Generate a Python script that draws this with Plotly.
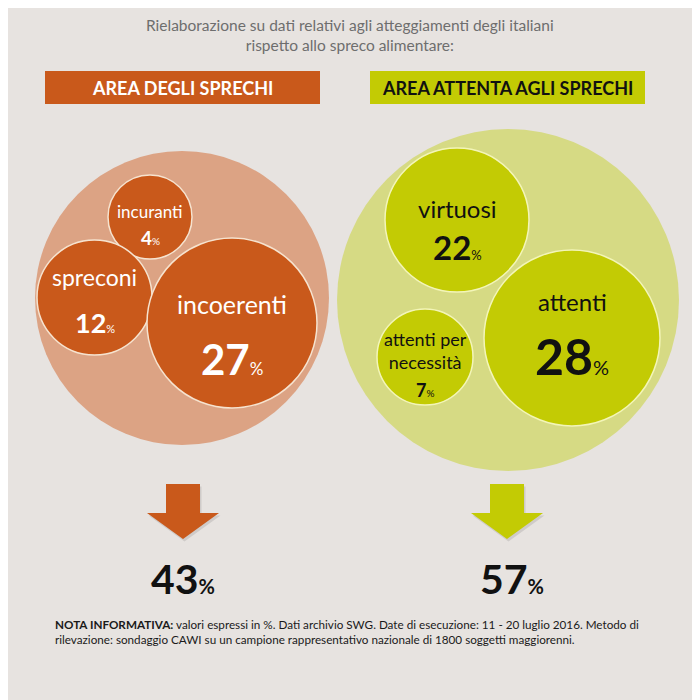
import plotly.graph_objects as go

# ---------------- data ----------------
title_lines = ["Rielaborazione su dati relativi agli atteggiamenti degli italiani",
               "rispetto allo spreco alimentare:"]
group_names = ["AREA DEGLI SPRECHI", "AREA ATTENTA AGLI SPRECHI"]
group_totals = [43, 57]
left_labels = ["incuranti", "spreconi", "incoerenti"]
left_values = [4, 12, 27]
right_labels = ["virtuosi", "attenti per<br>necessità", "attenti"]
right_values = [22, 7, 28]
footer_bold = "NOTA INFORMATIVA:"
footer_rest = (" valori espressi in %. Dati archivio SWG. Date di esecuzione: 11 - 20 luglio 2016. Metodo di"
               "<br>rilevazione: sondaggio CAWI su un campione rappresentativo nazionale di 1800 soggetti maggiorenni.")

# ---------------- layout (pixel positions / sizes / styles) ----------------
BG = "#E7E3E0"
ORANGE = "#C9591B"
ORANGE_LIGHT = "#DCA384"
GREEN = "#C3CB04"
GREEN_LIGHT = "#D6DA84"
FONT = "Lato"
OFF = 8  # page body margin compensation

group_cx = [182, 508]
group_cy = [298, 300]
group_r = [147, 171]

left_cx = [150, 94.5, 232]
left_cy = [217, 297.5, 323]
left_r = [42, 57.5, 85]
left_name_dy = [-6, -21, -19]
left_val_dy = [20, 25, 36]
left_name_size = [17, 23, 25]
left_val_size = [19, 27, 42]

right_cx = [457, 425, 572]
right_cy = [220, 357, 338]
right_r = [72, 48, 88]
right_name_dy = [-12, -7, -37]
right_val_dy = [27, 33, 18]
right_name_size = [24, 18, 24]
right_val_size = [33, 18, 50]

fig = go.Figure()

# big group circles
fig.add_trace(go.Scatter(
    x=group_cx, y=group_cy, mode="markers",
    marker=dict(size=[2 * r for r in group_r], color=[ORANGE_LIGHT, GREEN_LIGHT],
                opacity=1, line=dict(width=0)),
    hoverinfo="skip", showlegend=False))

# inner circles
fig.add_trace(go.Scatter(
    x=left_cx, y=left_cy, mode="markers",
    marker=dict(size=[2 * r for r in left_r], color=ORANGE, opacity=1,
                line=dict(width=1.5, color="#F6E3CF")),
    hoverinfo="skip", showlegend=False))
fig.add_trace(go.Scatter(
    x=right_cx, y=right_cy, mode="markers",
    marker=dict(size=[2 * r for r in right_r], color=GREEN, opacity=1,
                line=dict(width=1.5, color="#F3F5B8")),
    hoverinfo="skip", showlegend=False))

ann = []

def pct(v, size):
    return (f"<b>{v}</b><span style='font-size:{max(10, round(size * 0.4))}px'>%</span>")

for lab, v, cx, cy, ndy, vdy, ns, vs in zip(left_labels, left_values, left_cx, left_cy,
                                            left_name_dy, left_val_dy, left_name_size, left_val_size):
    ann.append(dict(x=cx, y=cy + ndy, text=lab, showarrow=False,
                    font=dict(family=FONT, size=ns, color="white"), yanchor="middle"))
    ann.append(dict(x=cx, y=cy + vdy, text=pct(v, vs), showarrow=False,
                    font=dict(family=FONT, size=vs, color="white"), yanchor="middle"))

for lab, v, cx, cy, ndy, vdy, ns, vs in zip(right_labels, right_values, right_cx, right_cy,
                                            right_name_dy, right_val_dy, right_name_size, right_val_size):
    ann.append(dict(x=cx, y=cy + ndy, text=lab, showarrow=False,
                    font=dict(family=FONT, size=ns, color="#111111"), yanchor="middle"))
    ann.append(dict(x=cx, y=cy + vdy, text=pct(v, vs), showarrow=False,
                    font=dict(family=FONT, size=vs, color="#111111"), yanchor="middle"))

# title
ann.append(dict(x=350, y=35, text="<br>".join(title_lines), showarrow=False,
                font=dict(family=FONT, size=15.5, color="#6E6E6E"), yanchor="middle",
                align="center"))

# header boxes
box_x0 = [45, 370]
box_x1 = [320, 645]
box_colors = [ORANGE, GREEN]
box_text_colors = ["white", "#111111"]
shapes = []
for name, x0, x1, c, tc in zip(group_names, box_x0, box_x1, box_colors, box_text_colors):
    shapes.append(dict(type="rect", xref="x", yref="y", x0=x0, x1=x1, y0=71, y1=104,
                       fillcolor=c, line=dict(width=0), layer="below"))
    ann.append(dict(x=(x0 + x1) / 2, y=88, text=f"<b>{name}</b>", showarrow=False,
                    font=dict(family=FONT, size=18, color=tc), yanchor="middle"))

# arrows
arrow_top, arrow_head, arrow_tip = 484, 513, 539
shaft_hw, head_hw = 17, 36
for cx, c in zip([183, 507], [ORANGE, GREEN]):
    xs = [cx - shaft_hw, cx + shaft_hw, cx + shaft_hw, cx + head_hw, cx,
          cx - head_hw, cx - shaft_hw, cx - shaft_hw]
    ys = [arrow_top, arrow_top, arrow_head, arrow_head, arrow_tip,
          arrow_head, arrow_head, arrow_top]
    fig.add_trace(go.Scatter(x=[x + 1.5 for x in xs], y=[y + 2.5 for y in ys], fill="toself",
                             fillcolor="rgba(0,0,0,0.10)", line=dict(width=0),
                             mode="lines", hoverinfo="skip", showlegend=False))
    fig.add_trace(go.Scatter(x=xs, y=ys, fill="toself", fillcolor=c,
                             line=dict(width=0), mode="lines",
                             hoverinfo="skip", showlegend=False))

# totals
for cx, v in zip([183, 512], group_totals):
    ann.append(dict(x=cx, y=578, text=f"<b>{v}</b><span style='font-size:20px'><b>%</b></span>",
                    showarrow=False, font=dict(family=FONT, size=41, color="#111111"),
                    yanchor="middle"))

# footer
ann.append(dict(x=53, y=631, xanchor="left", yanchor="middle", align="left",
                text=f"<b>{footer_bold}</b>{footer_rest}", showarrow=False,
                font=dict(family=FONT, size=11.7, color="#1A1A1A")))

fig.update_layout(
    width=700, height=700, margin=dict(l=0, r=0, t=0, b=0),
    paper_bgcolor=BG, plot_bgcolor=BG,
    xaxis=dict(range=[OFF, 700 + OFF], visible=False, fixedrange=True),
    yaxis=dict(range=[700 + OFF, OFF], visible=False, fixedrange=True),
    shapes=shapes, annotations=ann, showlegend=False,
)

fig.write_html("out.html")
